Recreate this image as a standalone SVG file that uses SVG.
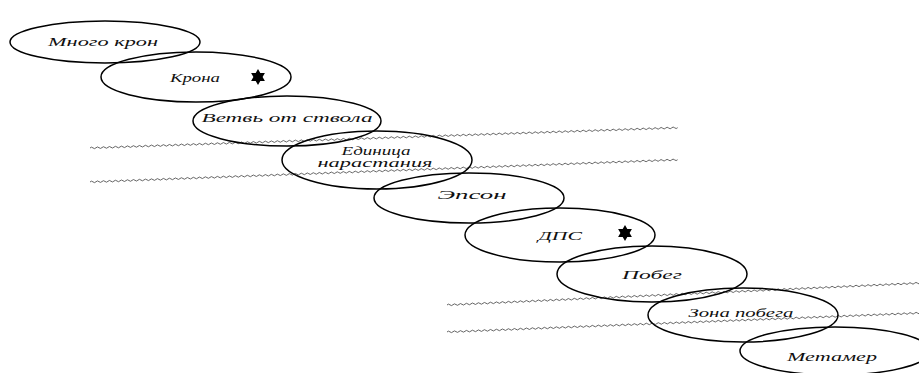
<svg xmlns="http://www.w3.org/2000/svg" xmlns:xlink="http://www.w3.org/1999/xlink" width="919" height="373" viewBox="0 0 919 373">
<style>
.n ellipse{fill:none;stroke:#000;stroke-width:1.5}
.n text{font-family:"Liberation Serif","DejaVu Serif",serif;font-style:italic;font-size:13px;fill:#111;text-anchor:middle}
.star{fill:#000}
.wave{fill:none;stroke:#555;stroke-width:0.9}
</style>
<defs>
<path id="wv" d="M0,0 q1.5,-1.6 3,0 t3,0 t3,0 t3,0 t3,0 t3,0 t3,0 t3,0 t3,0 t3,0 t3,0 t3,0 t3,0 t3,0 t3,0 t3,0 t3,0 t3,0 t3,0 t3,0 t3,0 t3,0 t3,0 t3,0 t3,0 t3,0 t3,0 t3,0 t3,0 t3,0 t3,0 t3,0 t3,0 t3,0 t3,0 t3,0 t3,0 t3,0 t3,0 t3,0 t3,0 t3,0 t3,0 t3,0 t3,0 t3,0 t3,0 t3,0 t3,0 t3,0 t3,0 t3,0 t3,0 t3,0 t3,0 t3,0 t3,0 t3,0 t3,0 t3,0 t3,0 t3,0 t3,0 t3,0 t3,0 t3,0 t3,0 t3,0 t3,0 t3,0 t3,0 t3,0 t3,0 t3,0 t3,0 t3,0 t3,0 t3,0 t3,0 t3,0 t3,0 t3,0 t3,0 t3,0 t3,0 t3,0 t3,0 t3,0 t3,0 t3,0 t3,0 t3,0 t3,0 t3,0 t3,0 t3,0 t3,0 t3,0 t3,0 t3,0 t3,0 t3,0 t3,0 t3,0 t3,0 t3,0 t3,0 t3,0 t3,0 t3,0 t3,0 t3,0 t3,0 t3,0 t3,0 t3,0 t3,0 t3,0 t3,0 t3,0 t3,0 t3,0 t3,0 t3,0 t3,0 t3,0 t3,0 t3,0 t3,0 t3,0 t3,0 t3,0 t3,0 t3,0 t3,0 t3,0 t3,0 t3,0 t3,0 t3,0 t3,0 t3,0 t3,0 t3,0 t3,0 t3,0 t3,0 t3,0 t3,0 t3,0 t3,0 t3,0 t3,0 t3,0 t3,0 t3,0 t3,0 t3,0 t3,0 t3,0 t3,0 t3,0 t3,0 t3,0 t3,0 t3,0 t3,0 t3,0 t3,0 t3,0 t3,0 t3,0 t3,0 t3,0 t3,0 t3,0 t3,0 t3,0 t3,0 t3,0 t3,0 t3,0 t3,0 t3,0 t3,0 t3,0 t3,0 t3,0 t3,0 t3,0 t3,0 t3,0 t3,0 t3,0 t3,0 t3,0"/>
<polygon id="star" points="0,-8 2.3,-4 6.9,-4 4.6,0 6.9,4 2.3,4 0,8 -2.3,4 -6.9,4 -4.6,0 -6.9,-4 -2.3,-4"/>
</defs>
<rect width="919" height="373" fill="#fff"/>
<g id="connectors">
<use xlink:href="#wv" class="wave" transform="translate(90,148) rotate(-1.98)"/>
<use xlink:href="#wv" class="wave" transform="translate(90,182) rotate(-2.17)"/>
<use xlink:href="#wv" class="wave" transform="translate(447,305) rotate(-2.66)"/>
<use xlink:href="#wv" class="wave" transform="translate(447,332) rotate(-2.30)"/>
</g>
<g id="n1" class="n"><ellipse cx="105" cy="42" rx="95" ry="21"/><text x="103" y="46" textLength="110" lengthAdjust="spacingAndGlyphs">Много крон</text></g>
<g id="n2" class="n"><ellipse cx="196" cy="77" rx="95" ry="25"/><text x="195" y="82" textLength="50" lengthAdjust="spacingAndGlyphs">Крона</text><use xlink:href="#star" class="star" x="258" y="77"/></g>
<g id="n3" class="n"><ellipse cx="287" cy="121" rx="94" ry="25"/><text x="287" y="122" textLength="171" lengthAdjust="spacingAndGlyphs">Ветвь от ствола</text></g>
<g id="n4" class="n"><ellipse cx="377" cy="160" rx="95" ry="29"/><text x="376" y="155" style="font-size:11.5px" textLength="69" lengthAdjust="spacingAndGlyphs">Единица</text><text x="375" y="167" style="font-size:11.5px" textLength="115" lengthAdjust="spacingAndGlyphs">нарастания</text></g>
<g id="n5" class="n"><ellipse cx="469" cy="198" rx="95" ry="25"/><text x="472" y="199" textLength="69" lengthAdjust="spacingAndGlyphs">Эпсон</text></g>
<g id="n6" class="n"><ellipse cx="560" cy="235" rx="95" ry="27"/><text x="560" y="240" textLength="44" lengthAdjust="spacingAndGlyphs">ДПС</text><use xlink:href="#star" class="star" x="625" y="233"/></g>
<g id="n7" class="n"><ellipse cx="652" cy="274" rx="95" ry="28"/><text x="652" y="279" textLength="60" lengthAdjust="spacingAndGlyphs">Побег</text></g>
<g id="n8" class="n"><ellipse cx="743" cy="315" rx="95" ry="27"/><text x="741" y="317" textLength="105" lengthAdjust="spacingAndGlyphs">Зона побега</text></g>
<g id="n9" class="n"><ellipse cx="835" cy="351" rx="95" ry="24"/><text x="832" y="361" textLength="90" lengthAdjust="spacingAndGlyphs">Метамер</text></g>
</svg>
